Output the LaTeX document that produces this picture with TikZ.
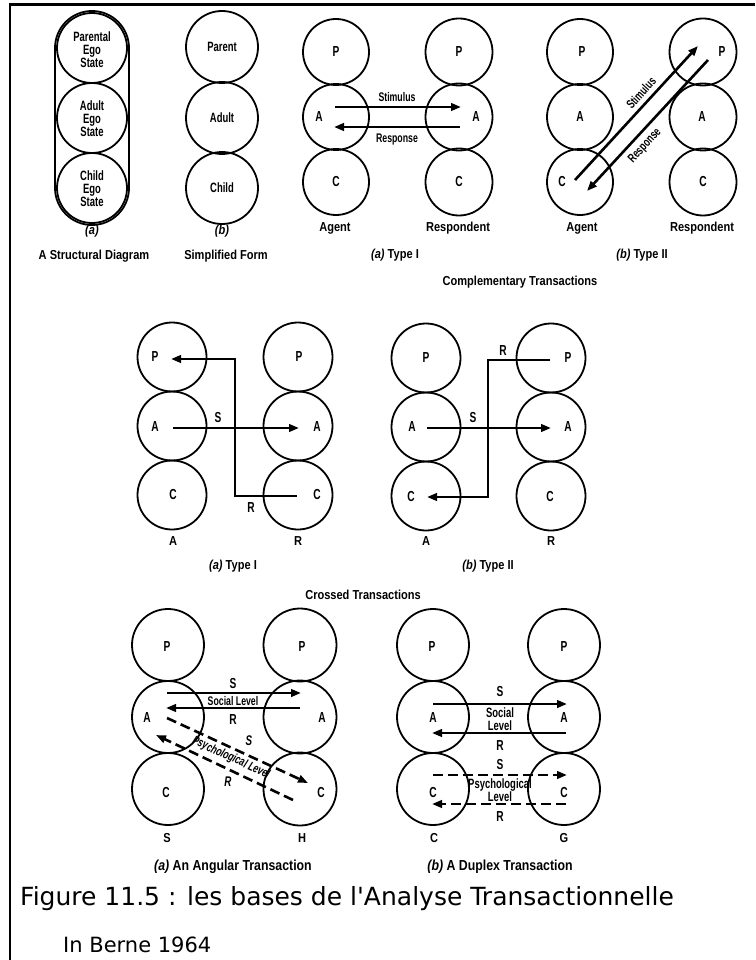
\documentclass[tikz,border=0pt]{standalone}
\usepackage{fontspec}
\setmainfont{Liberation Sans}
\newfontfamily\capfont{DejaVu Sans}
\newfontfamily\cf[FakeStretch=0.85]{Liberation Sans}
\newfontfamily\lf[FakeStretch=0.7]{Liberation Sans}
\usetikzlibrary{arrows.meta}
\begin{document}
\begin{tikzpicture}[x=1pt,y=-1pt,
 circ/.style={circle,draw,line width=1.8pt,inner sep=0pt,minimum size=#1},
 lab/.style={inner sep=0pt,font=\lf\bfseries\fontsize{12.5}{12.5}\selectfont},
 let/.style={inner sep=0pt,font=\lf\bfseries\fontsize{14.5}{14.5}\selectfont},
 ilab/.style={inner sep=0pt,font=\lf\bfseries\itshape\fontsize{12.5}{12.5}\selectfont},
 mlab/.style={inner sep=0pt,align=center,font=\lf\bfseries\fontsize{13.5}{13}\selectfont},
 capt/.style={inner sep=0pt,font=\cf\bfseries\fontsize{13}{13}\selectfont},
 icapt/.style={inner sep=0pt,font=\cf\bfseries\itshape\fontsize{13}{13}\selectfont},
 bcapt/.style={inner sep=0pt,font=\cf\bfseries\fontsize{14.5}{14.5}\selectfont},
 arr/.style={line width=2.6pt,-{Triangle[length=10pt,width=7.5pt]}},
 darr/.style={arr,dash pattern=on 10pt off 5pt},
 frameline/.style={line width=2.4pt}]
\useasboundingbox (0,0) rectangle (755,960);
% frame
\coordinate (fbl) at (10,960);
\coordinate (ftl) at (10,4.5);
\coordinate (ftr) at (755,4.5);
\draw[frameline] (fbl) -- (ftl) -- (ftr);

% ---------- Structural diagram ----------
\draw[line width=1.8pt,rounded corners=37pt] (55,11) rectangle (129,225);
\node[circ=70pt] (sa1) at (92,48) {};
\node[circ=70pt] (sa2) at (92,118) {};
\node[circ=70pt] (sa3) at (92,188) {};
\node[mlab] (sa1t) at (92,50) {Parental\\Ego\\State};
\node[mlab] (sa2t) at (92,119) {Adult\\Ego\\State};
\node[mlab] (sa3t) at (92,189) {Child\\Ego\\State};
\node[icapt] (sacap) at (92,231) {(a)};
\node[capt] (satitle) at (94,256) {A Structural Diagram};

\node[circ=72pt] (sb1) at (222,47) {};
\node[circ=72pt] (sb2) at (222,118) {};
\node[circ=72pt] (sb3) at (222,188) {};
\node[mlab] (sb1t) at (222,47) {Parent};
\node[mlab] (sb2t) at (222,118) {Adult};
\node[mlab] (sb3t) at (222,188) {Child};
\node[icapt] (sbcap) at (222,231) {(b)};
\node[capt] (sbtitle) at (226,256) {Simplified Form};

% ---------- Complementary Type I ----------
\foreach \n/\y in {p/52,a/117,c/182}{
  \node[circ=66pt] (c1l\n) at (336,\y) {};
  \node[circ=67pt] (c1r\n) at (459,\y) {};
}
\node[let] (c1lpt) at (336,52) {P};
\node[let] (c1lat) at (319,117) {A};
\node[let] (c1lct) at (336,182) {C};
\node[let] (c1rpt) at (459,52) {P};
\node[let] (c1rat) at (476,117) {A};
\node[let] (c1rct) at (459,182) {C};
\coordinate (c1s0) at (335,107); \coordinate (c1s1) at (461,107);
\coordinate (c1r0) at (460,127); \coordinate (c1r1) at (334,127);
\draw[arr] (c1s0) -- (c1s1);
\draw[arr] (c1r0) -- (c1r1);
\node[lab] (c1st) at (397,97) {Stimulus};
\node[lab] (c1rt) at (397,139) {Response};
\node[capt] (c1ag) at (335,228) {Agent};
\node[capt] (c1re) at (458,228) {Respondent};
\node[capt] (c1cap) at (395,255) {{\itshape (a)} Type I};
\node[capt] (comp) at (520,282) {Complementary Transactions};

% ---------- Complementary Type II ----------
\foreach \n/\y in {p/52,a/117,c/182}{
  \node[circ=66pt] (c2l\n) at (580,\y) {};
  \node[circ=67pt] (c2r\n) at (703,\y) {};
}
\node[let] (c2lpt) at (582,52) {P};
\node[let] (c2lat) at (580,117) {A};
\node[let] (c2lct) at (562,182) {C};
\node[let] (c2rpt) at (722,52) {P};
\node[let] (c2rat) at (702,117) {A};
\node[let] (c2rct) at (703,182) {C};
\coordinate (c2s0) at (575,180); \coordinate (c2s1) at (698,46);
\coordinate (c2r0) at (708,60); \coordinate (c2r1) at (587,191);
\draw[arr] (c2s0) -- (c2s1);
\draw[arr] (c2r0) -- (c2r1);
\node[lab,rotate=47.5] (c2st) at (641,93) {Stimulus};
\node[lab,rotate=47.5] (c2rt) at (645,146) {Response};
\node[capt] (c2ag) at (582,228) {Agent};
\node[capt] (c2re) at (702,228) {Respondent};
\node[capt] (c2cap) at (642,255) {{\itshape (b)} Type II};

% ---------- Crossed Type I ----------
\foreach \n/\y in {p/357,a/426,c/495}{
  \node[circ=69pt] (x1l\n) at (172,\y) {};
  \node[circ=69pt] (x1r\n) at (298,\y) {};
}
\node[let] (x1lpt) at (155,357) {P};
\node[let] (x1lat) at (155,427) {A};
\node[let] (x1lct) at (173,495) {C};
\node[let] (x1rpt) at (299,357) {P};
\node[let] (x1rat) at (317,427) {A};
\node[let] (x1rct) at (317,495) {C};
\coordinate (x1s0) at (173,428); \coordinate (x1s1) at (299,428);
\draw[arr] (x1s0) -- (x1s1);
\node[let] (x1st) at (218,418) {S};
\coordinate (x1r0) at (297,496); \coordinate (x1r1) at (235,496);
\coordinate (x1r2) at (235,359); \coordinate (x1r3) at (171,359);
\draw[arr] (x1r0) -- (x1r1) -- (x1r2) -- (x1r3);
\node[let] (x1rt) at (251,508) {R};
\node[capt] (x1ag) at (173,541) {A};
\node[capt] (x1re) at (298,541) {R};
\node[capt] (x1cap) at (233,566) {{\itshape (a)} Type I};
\node[capt] (cross) at (363,595) {Crossed Transactions};

% ---------- Crossed Type II ----------
\foreach \n/\y in {p/358,a/427,c/496}{
  \node[circ=69pt] (x2l\n) at (426,\y) {};
  \node[circ=69pt] (x2r\n) at (551,\y) {};
}
\node[let] (x2lpt) at (426,358) {P};
\node[let] (x2lat) at (412,427) {A};
\node[let] (x2lct) at (411,497) {C};
\node[let] (x2rpt) at (568,358) {P};
\node[let] (x2rat) at (568,427) {A};
\node[let] (x2rct) at (550,497) {C};
\coordinate (x2s0) at (427,428); \coordinate (x2s1) at (551,428);
\draw[arr] (x2s0) -- (x2s1);
\node[let] (x2st) at (473,418) {S};
\coordinate (x2r0) at (550,360); \coordinate (x2r1) at (488,360);
\coordinate (x2r2) at (488,497); \coordinate (x2r3) at (427,497);
\draw[arr] (x2r0) -- (x2r1) -- (x2r2) -- (x2r3);
\node[let] (x2rt) at (503,351) {R};
\node[capt] (x2ag) at (426,541) {A};
\node[capt] (x2re) at (551,541) {R};
\node[capt] (x2cap) at (488,566) {{\itshape (b)} Type II};

% ---------- Angular ----------
\foreach \n/\y in {p/645,a/717,c/789}{
  \node[circ=72pt] (anl\n) at (168,\y) {};
  \node[circ=73pt] (anr\n) at (300,\y) {};
}
\node[let] (anlpt) at (167,647) {P};
\node[let] (anlat) at (147,718) {A};
\node[let] (anlct) at (166,792) {C};
\node[let] (anrpt) at (302,647) {P};
\node[let] (anrat) at (322,718) {A};
\node[let] (anrct) at (321,792) {C};
\coordinate (ans0) at (167,693); \coordinate (ans1) at (301,693);
\coordinate (anr0) at (300,708); \coordinate (anr1) at (166,708);
\draw[arr] (ans0) -- (ans1);
\draw[arr] (anr0) -- (anr1);
\node[let] (anst) at (233,684) {S};
\node[lab] (ansoc) at (233,701) {Social Level};
\node[let] (anrt) at (233,720) {R};
\coordinate (ands0) at (167,718); \coordinate (ands1) at (308,783);
\coordinate (andr0) at (293,800); \coordinate (andr1) at (156,735);
\draw[darr] (ands0) -- (ands1);
\draw[darr] (andr0) -- (andr1);
\node[ilab,rotate=-24.6] (anpsy) at (231,758) {Psychological Level};
\node[ilab,font=\lf\bfseries\itshape\fontsize{14}{14}\selectfont] (andst) at (249,741) {S};
\node[ilab,font=\lf\bfseries\itshape\fontsize{14}{14}\selectfont] (andrt) at (228,782) {R};
\node[capt] (anag) at (167,838) {S};
\node[capt] (anre) at (302,838) {H};
\node[bcapt] (ancap) at (233,867) {{\itshape (a)} An Angular Transaction};

% ---------- Duplex ----------
\foreach \n/\y in {p/645,a/717,c/789}{
  \node[circ=72pt] (dul\n) at (433,\y) {};
  \node[circ=72pt] (dur\n) at (564,\y) {};
}
\node[let] (dulpt) at (432,647) {P};
\node[let] (dulat) at (433,718) {A};
\node[let] (dulct) at (433,792) {C};
\node[let] (durpt) at (564,647) {P};
\node[let] (durat) at (564,718) {A};
\node[let] (durct) at (564,792) {C};
\coordinate (dus0) at (433,704); \coordinate (dus1) at (567,704);
\coordinate (dur0) at (566,733); \coordinate (dur1) at (432,733);
\draw[arr] (dus0) -- (dus1);
\draw[arr] (dur0) -- (dur1);
\node[let] (dust) at (500,692) {S};
\node[mlab] (dusoc) at (500,719) {Social\\Level};
\node[let] (durt) at (500,746) {R};
\coordinate (duds0) at (433,775); \coordinate (duds1) at (567,775);
\coordinate (dudr0) at (566,804); \coordinate (dudr1) at (432,804);
\draw[darr] (duds0) -- (duds1);
\draw[darr] (dudr0) -- (dudr1);
\node[let] (dudst) at (500,764) {S};
\node[mlab] (dupsy) at (500,790) {Psychological\\Level};
\node[let] (dudrt) at (500,817) {R};
\node[capt] (duag) at (434,838) {C};
\node[capt] (dure) at (564,838) {G};
\node[bcapt] (ducap) at (500,867) {{\itshape (b)} A Duplex Transaction};

% ---------- caption ----------
\node[anchor=base west,inner sep=0pt,font=\capfont\fontsize{25}{25}\selectfont] (fig) at (20,905) {Figure 11.5 : les bases de l'Analyse Transactionnelle};
\node[anchor=base west,inner sep=0pt,font=\capfont\fontsize{21}{21}\selectfont] (src) at (63,952) {In Berne 1964};
\end{tikzpicture}
\end{document}
